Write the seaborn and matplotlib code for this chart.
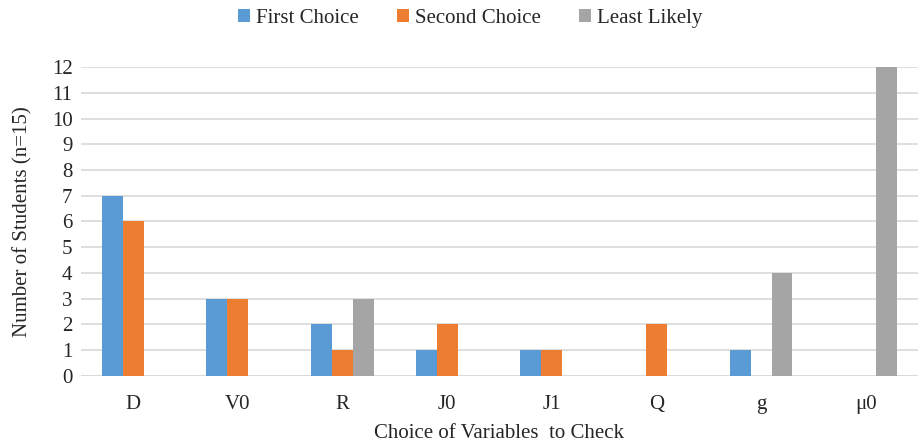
import numpy as np
import pandas as pd
import seaborn as sns
from matplotlib import pyplot as plt

# data
variables = ['D', 'V0', 'R', 'J0', 'J1', 'Q', 'g', 'μ0']
first_choice = [7, 3, 2, 1, 1, 0, 1, 0]
second_choice = [6, 3, 1, 2, 1, 2, 0, 0]
least_likely = [0, 0, 3, 0, 0, 0, 4, 12]
series = ['First Choice', 'Second Choice', 'Least Likely']
colors = ['#5B9BD5', '#ED7D31', '#A5A5A5']

df = pd.DataFrame({
    'var': variables * 3,
    'count': first_choice + second_choice + least_likely,
    'series': np.repeat(series, len(variables)),
})

sns.set_theme(style='white')
plt.rcParams['font.family'] = ['Liberation Serif', 'DejaVu Serif']

fig = plt.figure(figsize=(9.19, 4.47), dpi=100)
ax = fig.add_axes([0.088, 0.159, 0.911, 0.691])

sns.barplot(data=df, x='var', y='count', hue='series', palette=colors,
            width=0.6, saturation=1, linewidth=0, ax=ax, legend=True)

ax.set_ylim(0, 12)
ax.set_yticks(range(0, 13))
ax.yaxis.grid(True, color='#D9D9D9', linewidth=1.2)
ax.set_axisbelow(True)
for s in ax.spines.values():
    s.set_visible(False)
ax.axhline(0, color='#D9D9D9', linewidth=1.2, zorder=0)
ax.tick_params(axis='x', labelsize=15, pad=14, length=0)
ax.tick_params(axis='y', labelsize=15, pad=6, length=0)
ax.set_xlabel('Choice of Variables  to Check', fontsize=15, labelpad=7)
ax.set_ylabel('Number of Students (n=15)', fontsize=15, labelpad=14)

ax.legend(loc='upper center', bbox_to_anchor=(0.465, 1.25), ncol=3,
          frameon=False, fontsize=15, handlelength=0.6, handleheight=0.6,
          handletextpad=0.3, columnspacing=1.8)

fig.savefig('out.png', dpi=100)
